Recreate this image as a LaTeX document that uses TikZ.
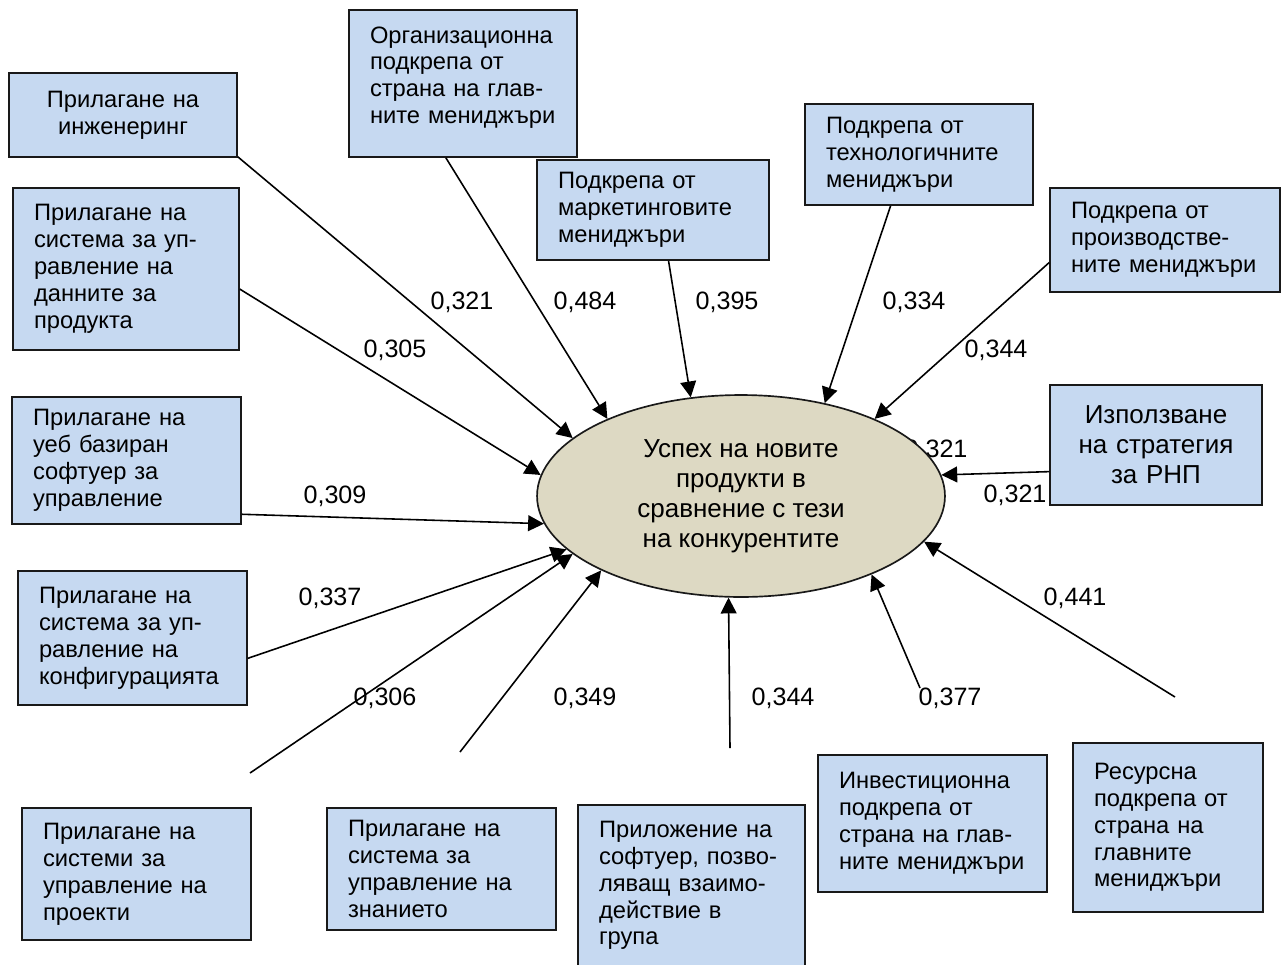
\documentclass[tikz,border=0pt]{standalone}
\usepackage{fontspec}
\setmainfont{Liberation Sans}
\usetikzlibrary{shapes.geometric,arrows.meta}
\hyphenpenalty=10000
\exhyphenpenalty=10000
\definecolor{boxblue}{HTML}{C6D9F1}
\definecolor{goaltan}{HTML}{DDD9C3}
\tikzset{
  factor/.style={draw=black!90,fill=boxblue,line width=0.9pt,inner xsep=0.42cm,
    inner ysep=0pt,align=left,font=\fontsize{13.5}{15.3}\selectfont},
  outcome/.style={ellipse,draw=black!90,fill=goaltan,line width=0.95pt,inner sep=0pt,
    minimum width=8.16cm,minimum height=4.04cm,align=center,
    font=\fontsize{14.8}{17}\selectfont},
  link/.style={-{Triangle[length=9pt,width=9pt]},line width=0.9pt},
  weight/.style={inner sep=0pt,font=\fontsize{14.3}{16}\selectfont}
}

\begin{document}
\begin{tikzpicture}[x=0.02cm,y=-0.02cm]
  \useasboundingbox (0,0) rectangle (1283,964);
  \clip (0,0) rectangle (1283,964);

  %factors, upper row
  \node[factor,align=center,text width=3.72cm,minimum height=1.68cm] (eng) at (123,115)
    {Прилагане на\\инженеринг};
  \node[factor,text width=3.68cm,minimum height=3.24cm] (data) at (126,269)
    {Прилагане на\\система за уп-\\равление на\\данните за\\продукта};
  \node[factor,text width=3.72cm,minimum height=2.94cm] (org) at (463,83.5)
    {Организационна\\подкрепа от\\страна на глав-\\ните мениджъри\\[-0.2cm]\mbox{}};
  \node[factor,text width=3.80cm,minimum height=2.0cm] (mkt) at (653,210)
    {Подкрепа от\\маркетинговите\\мениджъри};
  \node[factor,text width=3.72cm,minimum height=2.02cm] (tech) at (919,154.5)
    {Подкрепа от\\технологичните\\мениджъри};
  \node[factor,text width=3.76cm,minimum height=2.08cm] (prod) at (1165,240)
    {Подкрепа от\\производстве-\\ните мениджъри};
  \node[factor,align=center,text width=3.40cm,minimum height=2.4cm,
    font=\fontsize{14.8}{17}\selectfont] (rnp) at (1156,445)
    {Използване\\на стратегия\\за РНП};

  %factors, left side
  \node[factor,text width=3.74cm,minimum height=2.54cm] (web) at (126.5,460.5)
    {Прилагане на\\уеб базиран\\софтуер за\\управление};
  \node[factor,text width=3.74cm,minimum height=2.68cm] (conf) at (132.5,638)
    {Прилагане на\\система за уп-\\равление на\\конфигурацията};

  %factors, lower row
  \node[factor,text width=3.74cm,minimum height=2.64cm] (proj) at (136.5,874)
    {Прилагане на\\системи за\\управление на\\проекти};
  \node[factor,text width=3.74cm,minimum height=2.44cm] (know) at (441.5,869)
    {Прилагане на\\система за\\управление на\\знанието};
  \node[factor,text width=3.70cm,minimum height=3.22cm] (group) at (691.5,885.5)
    {Приложение на\\софтуер, позво-\\ляващ взаимо-\\действие в\\група};
  \node[factor,text width=3.74cm,minimum height=2.74cm] (inv) at (932.5,823.5)
    {Инвестиционна\\подкрепа от\\страна на глав-\\ните мениджъри};
  \node[factor,text width=2.96cm,minimum height=3.38cm] (res) at (1168,827.5)
    {Ресурсна\\подкрепа от\\страна на\\главните\\мениджъри};

  %label partly under the ellipse
  \node[weight] (w7) at (936,450) {0,321};

  %success of the new products
  \node[outcome] (goal) at (741,496)
    {Успех на новите\\продукти в\\сравнение с тези\\на конкурентите};

  %loose ends of the lower arrows
  \coordinate (e-proj) at (250,773);
  \coordinate (e-know) at (460,752);
  \coordinate (e-group) at (730,748);
  \coordinate (e-inv) at (920,688);
  \coordinate (e-res) at (1175,697);

  \draw[link] (eng.-20) -- (goal.161.4);
  \draw[link] (data.-10.4) -- (goal.174);
  \draw[link] (org.257.7) -- (goal.150.4);
  \draw[link] (mkt.287) -- (goal.117.9);
  \draw[link] (tech.241) -- (goal.48.4);
  \draw[link] (prod.191) -- (goal.30.6);
  \draw[link] (rnp.194.3) -- (goal.6.9);
  \draw[link] (web.335.4) -- (goal.188.5);
  \draw[link] (conf.350.6) -- (goal.197.2);
  \draw[link] (e-proj) -- (goal.199.4);
  \draw[link] (e-know) -- (goal.208.5);
  \draw[link] (e-group) -- (goal.263.8);
  \draw[link] (e-inv) -- (goal.329.7);
  \draw[link] (e-res) -- (goal.346.2);

  %path coefficients
  \node[weight] (w1) at (462,302) {0,321};
  \node[weight] (w2) at (395,350) {0,305};
  \node[weight] (w3) at (585,302) {0,484};
  \node[weight] (w4) at (727,302) {0,395};
  \node[weight] (w5) at (914,302) {0,334};
  \node[weight] (w6) at (996,350) {0,344};
  \node[weight] (w8) at (1015,495) {0,321};
  \node[weight] (w9) at (335,496) {0,309};
  \node[weight] (w10) at (330,598) {0,337};
  \node[weight] (w11) at (385,698) {0,306};
  \node[weight] (w12) at (585,698) {0,349};
  \node[weight] (w13) at (783,698) {0,344};
  \node[weight] (w14) at (950,698) {0,377};
  \node[weight] (w15) at (1075,598) {0,441};
\end{tikzpicture}
\end{document}
